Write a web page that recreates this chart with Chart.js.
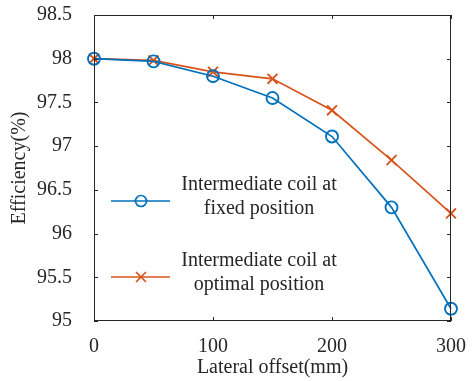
<!DOCTYPE html>
<html>
<head>
<meta charset="utf-8">
<script src="https://cdn.jsdelivr.net/npm/chart.js@4"></script>
<style>
  html, body { margin: 0; padding: 0; background: #fff; }
  #wrap { width: 472px; height: 381px; }
</style>
</head>
<body>
<div id="wrap"><canvas id="chart" width="472" height="381"></canvas></div>
<script>
const offsets = [0, 50, 100, 150, 200, 250, 300];
const fixedEff = [98.0, 97.97, 97.8, 97.55, 97.11, 96.3, 95.14];
const optimalEff = [98.0, 97.98, 97.85, 97.77, 97.41, 96.84, 96.23];
const fixedLabel = ['Intermediate coil at', 'fixed position'];
const optimalLabel = ['Intermediate coil at', 'optimal position'];

const BLUE = '#0072BD';
const ORANGE = '#D95319';
const AXIS = '#262626';
const FONT = '"Liberation Serif", "Times New Roman", serif';
const FS = 20;

// box, inward ticks and the two-line legend
const decor = {
  id: 'decor',
  afterDraw(chart) {
    const { ctx, chartArea: a, scales: { x, y } } = chart;
    ctx.save();
    ctx.strokeStyle = AXIS;
    ctx.lineWidth = 1;
    ctx.strokeRect(a.left + 0.5, a.top + 0.5, a.right - a.left - 1, a.bottom - a.top - 1);
    ctx.beginPath();
    x.ticks.forEach(t => {
      const px = Math.round(x.getPixelForValue(t.value)) + 0.5;
      ctx.moveTo(px, a.bottom); ctx.lineTo(px, a.bottom - 4);
      ctx.moveTo(px, a.top); ctx.lineTo(px, a.top + 4);
    });
    y.ticks.forEach(t => {
      const py = Math.round(y.getPixelForValue(t.value)) + 0.5;
      ctx.moveTo(a.left, py); ctx.lineTo(a.left + 4, py);
      ctx.moveTo(a.right, py); ctx.lineTo(a.right - 4, py);
    });
    ctx.stroke();

    const items = [
      { label: fixedLabel, color: BLUE, marker: 'circle', y: 201 },
      { label: optimalLabel, color: ORANGE, marker: 'cross', y: 277 }
    ];
    ctx.font = FS + 'px ' + FONT;
    ctx.textAlign = 'center';
    ctx.textBaseline = 'middle';
    items.forEach(it => {
      ctx.strokeStyle = it.color;
      ctx.lineWidth = 1.7;
      ctx.beginPath();
      ctx.moveTo(111, it.y); ctx.lineTo(170, it.y);
      ctx.stroke();
      ctx.beginPath();
      if (it.marker === 'circle') {
        ctx.arc(141, it.y, 5.5, 0, Math.PI * 2);
      } else {
        ctx.moveTo(136, it.y - 5); ctx.lineTo(146, it.y + 5);
        ctx.moveTo(146, it.y - 5); ctx.lineTo(136, it.y + 5);
      }
      ctx.stroke();
      ctx.fillStyle = AXIS;
      ctx.fillText(it.label[0], 259, it.y - 16);
      ctx.fillText(it.label[1], 259, it.y + 8);
    });
    ctx.restore();
  }
};

new Chart(document.getElementById('chart'), {
  type: 'line',
  data: {
    datasets: [
      {
        label: fixedLabel.join(' '),
        data: offsets.map((o, i) => ({ x: o, y: fixedEff[i] })),
        borderColor: BLUE,
        backgroundColor: 'rgba(0,0,0,0)',
        borderWidth: 1.7,
        pointStyle: 'circle',
        pointRadius: 6,
        pointBorderWidth: 1.9,
        pointBorderColor: BLUE,
        pointBackgroundColor: 'rgba(0,0,0,0)',
        tension: 0
      },
      {
        label: optimalLabel.join(' '),
        data: offsets.map((o, i) => ({ x: o, y: optimalEff[i] })),
        borderColor: ORANGE,
        backgroundColor: ORANGE,
        borderWidth: 1.7,
        pointStyle: 'crossRot',
        pointRadius: 7,
        pointBorderWidth: 1.9,
        pointBorderColor: ORANGE,
        tension: 0
      }
    ]
  },
  options: {
    responsive: false,
    animation: false,
    clip: false,
    layout: { padding: { top: 15, right: 14, left: 0, bottom: 0 } },
    plugins: { legend: { display: false }, tooltip: { enabled: false } },
    scales: {
      x: {
        type: 'linear',
        min: 0, max: 300,
        border: { display: false },
        grid: { display: false },
        ticks: { stepSize: 100, color: AXIS, padding: 6, font: { family: FONT, size: FS }, maxRotation: 0 },
        title: { display: true, text: 'Lateral offset(mm)', color: AXIS, font: { family: FONT, size: FS }, padding: { top: 0, bottom: 1 } },
        afterFit(s) { s.height = 60; }
      },
      y: {
        min: 95, max: 98.5,
        border: { display: false },
        grid: { display: false },
        ticks: {
          stepSize: 0.5, color: AXIS, padding: 14, font: { family: FONT, size: FS },
          callback: v => String(Math.round(v * 10) / 10)
        },
        title: { display: true, text: 'Efficiency(%)', color: AXIS, font: { family: FONT, size: FS }, padding: { top: 8, bottom: 0 } },
        afterFit(s) { s.width = 94; s.paddingTop = 0; s.paddingBottom = 0; }
      }
    }
  },
  plugins: [decor]
});
</script>
</body>
</html>
